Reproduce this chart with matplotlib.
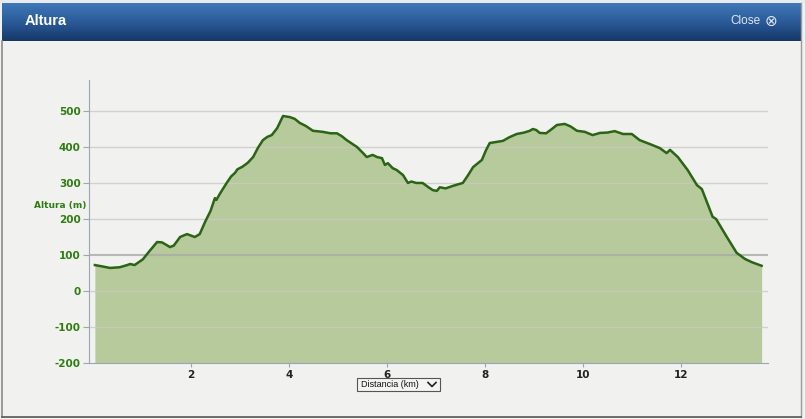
import matplotlib
matplotlib.use("Agg")
import matplotlib.pyplot as plt
import numpy as np
from matplotlib.patches import Rectangle
from matplotlib.lines import Line2D

# ---- data ----
distance_km = [0.04, 0.2, 0.35, 0.55, 0.7, 0.76, 0.85, 1.02, 1.15, 1.31, 1.41, 1.5, 1.57, 1.65,
               1.78, 1.92, 2.0, 2.08, 2.18, 2.29, 2.4, 2.49, 2.52, 2.6, 2.73, 2.82, 2.9, 2.95,
               3.05, 3.16, 3.27, 3.37, 3.47, 3.56, 3.65, 3.76, 3.88, 4.02, 4.12, 4.22, 4.35,
               4.49, 4.69, 4.85, 4.98, 5.08, 5.18, 5.39, 5.5, 5.59, 5.71, 5.8, 5.9, 5.96, 6.02,
               6.12, 6.2, 6.33, 6.43, 6.5, 6.6, 6.73, 6.85, 6.94, 7.02, 7.08, 7.2, 7.35, 7.55,
               7.65, 7.76, 7.94, 8.02, 8.1, 8.24, 8.37, 8.5, 8.65, 8.8, 8.92, 8.98, 9.05, 9.12,
               9.25, 9.35, 9.47, 9.63, 9.75, 9.88, 10.04, 10.2, 10.35, 10.5, 10.65, 10.82, 11.0,
               11.16, 11.37, 11.57, 11.71, 11.78, 11.94, 12.14, 12.33, 12.43, 12.65, 12.72,
               12.94, 13.14, 13.31, 13.45, 13.65]
altitude_m = [72, 68, 64, 66, 72, 75, 72, 88, 110, 136, 135, 128, 122, 126,
              150, 158, 154, 150, 158, 192, 222, 258, 253, 272, 300, 318, 328, 338,
              345, 356, 372, 398, 419, 428, 433, 452, 486, 483, 478, 467, 458,
              445, 442, 438, 438, 430, 419, 400, 385, 372, 378, 372, 369, 350, 355,
              341, 336, 322, 300, 304, 300, 300, 288, 280, 278, 288, 285, 292, 300,
              320, 344, 364, 390, 411, 414, 417, 427, 436, 440, 445, 450, 447, 439,
              438, 448, 461, 464, 457, 445, 442, 433, 439, 440, 444, 436, 436,
              419, 408, 397, 383, 392, 372, 336, 294, 283, 206, 200,
              150, 106, 89, 80, 70]
x_ticks = [2, 4, 6, 8, 10, 12]
y_ticks = [-200, -100, 0, 100, 200, 300, 400, 500]

W, H = 805, 419
fig = plt.figure(figsize=(W / 100, H / 100), dpi=100)
fig.patch.set_facecolor("#f1f1ef")

def fx(px):
    return px / W

def fy(py):
    return 1 - py / H

# top strip
fig.add_artist(Rectangle((0, fy(3)), 1, 3 / H, transform=fig.transFigure,
                         facecolor="#e8ecf2", edgecolor="none", zorder=0))
# header gradient
grad = np.linspace(0, 1, 64).reshape(-1, 1)
hax = fig.add_axes([fx(2), fy(41), fx(799), 38 / H])
hax.imshow(grad, aspect="auto", cmap=matplotlib.colors.LinearSegmentedColormap.from_list(
    "hdr", ["#4078b8", "#2a5a98", "#163869"]), extent=[0, 1, 0, 1])
hax.set_axis_off()
hax.text(0.028, 0.52, "Altura", color="white", fontsize=10.5, fontweight="bold",
         family="Liberation Sans", va="center", ha="left", transform=hax.transAxes)
fig.text(fx(760), fy(21), "Close", color="#dfe8f4", fontsize=8.5, family="Liberation Sans",
         ha="right", va="center")
fig.text(fx(771), fy(21), "\u2297", color="#dfe8f4", fontsize=11, family="DejaVu Sans",
         ha="center", va="center")

# outer borders
fig.add_artist(Line2D([fx(2), fx(2)], [fy(41), fy(417)], transform=fig.transFigure,
                      color="#8a8a8a", lw=1.2))
fig.add_artist(Line2D([fx(801), fx(801)], [fy(3), fy(417)], transform=fig.transFigure,
                      color="#9a9a9a", lw=1.0))
fig.add_artist(Line2D([fx(2), fx(801)], [fy(416.5), fy(416.5)], transform=fig.transFigure,
                      color="#555555", lw=1.2))

# main chart
ax = fig.add_axes([fx(89), fy(363), fx(768 - 89), (363 - 80) / H])
ax.set_facecolor("#f1f1ef")
ax.set_xlim(-0.08, 13.78)
ax.set_ylim(-200, 586)

ax.fill_between(distance_km, altitude_m, -200, color="#b6ca9c", lw=0, zorder=1)
for yv in y_ticks[1:]:
    ax.axhline(yv, color="#a9ada5" if yv == 100 else "#cacac6",
               lw=1.5 if yv == 100 else 1.0, alpha=0.8, zorder=2)
ax.plot(distance_km, altitude_m, color="#2a6414", lw=1.8, zorder=3)

for s in ["top", "right"]:
    ax.spines[s].set_visible(False)
ax.spines["left"].set_color("#9aa6b8")
ax.spines["bottom"].set_color("#9aa6b8")

ax.set_xticks(x_ticks)
ax.set_xticklabels([str(v) for v in x_ticks], fontsize=7.5, fontweight="bold", color="#222222")
ax.set_yticks(y_ticks)
ax.set_yticklabels([str(v) for v in y_ticks], fontsize=7.5, fontweight="bold", color="#2f7d12")
ax.tick_params(axis="y", length=4, color="#9aa6b8", pad=2)
ax.tick_params(axis="x", length=3, color="#9aa6b8", pad=2)

fig.text(fx(60), fy(205), "Altura (m)", color="#2f7d12", fontsize=6.5, fontweight="bold",
         ha="center", va="center")

# dropdown
fig.add_artist(Rectangle((fx(357), fy(391)), 83 / W, 13 / H, transform=fig.transFigure,
                         facecolor="#f4f4f2", edgecolor="#555555", lw=0.8))
fig.text(fx(361), fy(384.5), "Distancia (km)", fontsize=6.5, family="Liberation Sans",
         color="#111111", ha="left", va="center")
fig.add_artist(Line2D([fx(428), fx(432), fx(436)], [fy(382.5), fy(386.5), fy(382.5)],
                      transform=fig.transFigure, color="#222222", lw=1.2))

fig.savefig("out.png", dpi=100, facecolor=fig.get_facecolor())
